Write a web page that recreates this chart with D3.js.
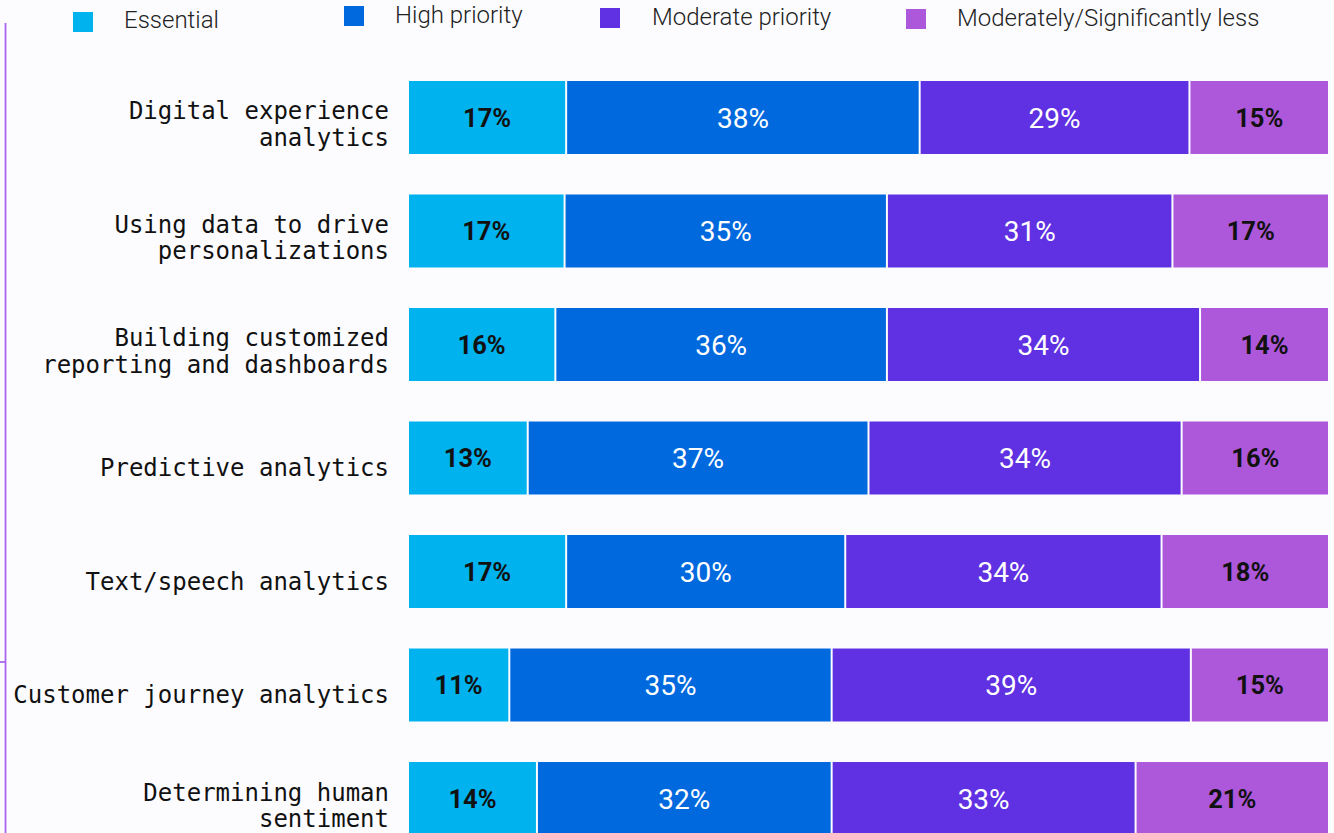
<!DOCTYPE html>
<html>
<head>
  <title>analytics priorities</title>
  <script src="https://d3js.org/d3.v7.min.js"></script>
  <style>
    body { margin: 0; background: #fcfcff; }
    svg { display: block; }
  </style>
</head>
<body>
  <div id="chart"></div>
  <script type="text/javascript">
    // rows, top to bottom
    var categories = [
      ["Digital experience", "analytics"],
      ["Using data to drive", "personalizations"],
      ["Building customized", "reporting and dashboards"],
      ["Predictive analytics"],
      ["Text/speech analytics"],
      ["Customer journey analytics"],
      ["Determining human", "sentiment"]
    ]
    var seriesNames = ["Essential", "High priority", "Moderate priority", "Moderately/Significantly less"]
    var essential = [17, 17, 16, 13, 17, 11, 14]
    var highPriority = [38, 35, 36, 37, 30, 35, 32]
    var moderatePriority = [29, 31, 34, 34, 34, 39, 33]
    var lessPriority = [15, 17, 14, 16, 18, 15, 21]

    var colors = ["#00b2ee", "#0069de", "#6031e2", "#ad58db"]
    var labelColors = ["#111", "#fff", "#fff", "#111"]
    var labelWeights = [700, 400, 400, 700]
    // legend layout: square x, square y, text x, text baseline
    var legendPos = [[73, 12, 124, 28], [344, 6, 395, 23], [600, 8, 652, 25], [906, 9, 957, 26]]

    var width = 1334, height = 833
    var keys = ["e", "h", "m", "l"]
    var rows = categories.map((c, i) => ({
      key: c.join(" "), lines: c,
      e: essential[i], h: highPriority[i], m: moderatePriority[i], l: lessPriority[i]
    }))

    var svg = d3.select("#chart").append("svg")
      .attr("width", width).attr("height", height)

    // left rule
    svg.append("line").attr("x1", 5.5).attr("x2", 5.5).attr("y1", 23).attr("y2", height)
      .attr("stroke", "#a866f0").attr("stroke-width", 1.8)
    svg.append("line").attr("x1", 0).attr("x2", 5.5).attr("y1", 662).attr("y2", 662)
      .attr("stroke", "#a866f0").attr("stroke-width", 1.8)

    var x = d3.scaleLinear().domain([0, 1]).range([408, 1329])
    var y = d3.scaleBand().domain(rows.map(r => r.key)).range([81, 835])
      .paddingInner(0.357).paddingOuter(0)

    var stack = d3.stack().keys(keys).offset(d3.stackOffsetExpand)
    var series = stack(rows)

    var groups = svg.selectAll("g.series")
      .data(series)
      .enter()
      .append("g")
      .attr("class", "series")

    groups.selectAll("rect")
      .data((s, si) => s.map(d => ({ d: d, si: si, key: s.key })))
      .enter()
      .append("rect")
      .attr("x", o => x(o.d[0]) + 1)
      .attr("y", o => y(o.d.data.key))
      .attr("width", o => x(o.d[1]) - x(o.d[0]) - 2)
      .attr("height", y.bandwidth())
      .attr("fill", o => colors[o.si])

    groups.selectAll("text")
      .data((s, si) => s.map(d => ({ d: d, si: si, key: s.key })))
      .enter()
      .append("text")
      .attr("x", o => (x(o.d[0]) + x(o.d[1])) / 2)
      .attr("y", o => y(o.d.data.key) + y.bandwidth() / 2)
      .attr("dy", "0.36em")
      .attr("text-anchor", "middle")
      .attr("font-family", "Roboto, sans-serif")
      .attr("font-size", o => labelWeights[o.si] == 700 ? 25.5 : 28)
      .attr("font-weight", o => labelWeights[o.si])
      .attr("fill", o => labelColors[o.si])
      .text(o => o.d.data[o.key] + "%")

    // category labels
    var cat = svg.selectAll("text.cat")
      .data(rows)
      .enter()
      .append("text")
      .attr("class", "cat")
      .attr("text-anchor", "end")
      .attr("font-family", "'DejaVu Sans Mono', monospace")
      .attr("font-size", 24)
      .attr("fill", "#111")
      .attr("transform", r => {
        var c = y(r.key) + y.bandwidth() / 2
        var first = r.lines.length == 1 ? c + 18 : c + 2
        return "translate(389," + first + ")"
      })
    cat.selectAll("tspan")
      .data(r => r.lines)
      .enter()
      .append("tspan")
      .attr("x", 0)
      .attr("dy", (l, i) => i == 0 ? 0 : 26.5)
      .text(l => l)

    // legend
    var legend = svg.selectAll("g.legend")
      .data(seriesNames)
      .enter()
      .append("g")
      .attr("class", "legend")
    legend.append("rect")
      .attr("x", (n, i) => legendPos[i][0])
      .attr("y", (n, i) => legendPos[i][1])
      .attr("width", 20).attr("height", 20)
      .attr("fill", (n, i) => colors[i])
    legend.append("text")
      .attr("x", (n, i) => legendPos[i][2])
      .attr("y", (n, i) => legendPos[i][3])
      .attr("font-family", "Roboto, sans-serif")
      .attr("font-weight", 300)
      .attr("font-size", 24)
      .attr("fill", "#222")
      .text(n => n)
  </script>
</body>
</html>
